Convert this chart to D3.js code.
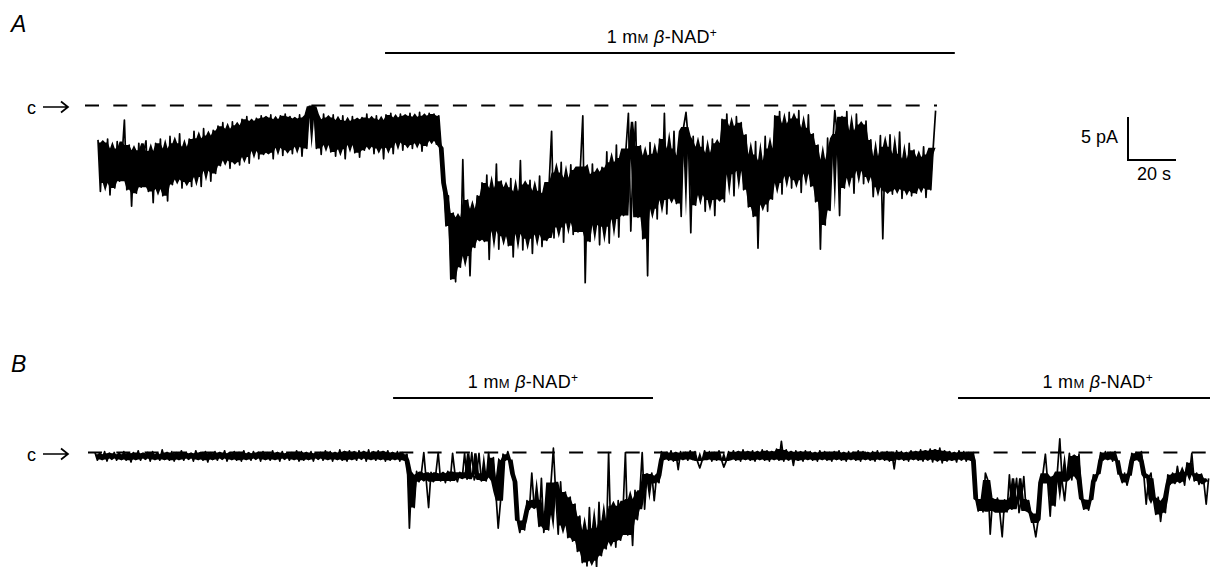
<!DOCTYPE html>
<html>
<head>
<meta charset="utf-8">
<script src="https://cdn.jsdelivr.net/npm/d3@7"></script>
<style>
  body { margin: 0; background: #fff; }
  svg { display: block; font-family: "Liberation Sans", Arial, Helvetica, sans-serif; }
</style>
</head>
<body>
<div id="canvas"></div>
<script>
"use strict";

/* recording settings */
const svgWidth = 1210;
const svgHeight = 567;
const dt = 1;            // s between samples
const pxPerSec = 2.4;
const pxPerPA = 8.6;

/* trace A, current in pA relative to closed level (one sample per second) */
const traceA = [
  -4.0, -10.0, -4.3, -9.0, -3.9, -10.4, -5.0, -9.6, -4.2, -8.8,
  -6.0, -1.7, -9.8, -4.6, -11.7, -5.2, -10.2, -4.4, -9.5, -5.5,
  -4.1, -10.0, -5.3, -11.3, -4.4, -9.7, -3.9, -10.5, -5.0, -11.1,
  -3.6, -9.2, -4.4, -8.6, -3.3, -9.6, -4.8, -8.9, -3.9, -9.4,
  -3.0, -8.3, -3.8, -9.4, -2.7, -7.6, -3.5, -8.8, -2.9, -7.9,
  -2.4, -7.0, -2.0, -6.4, -2.7, -7.3, -1.9, -6.6, -2.3, -6.9,
  -1.6, -6.0, -1.3, -6.7, -1.8, -5.3, -1.5, -6.2, -1.2, -5.7,
  -1.4, -5.5, -1.1, -6.2, -1.6, -4.9, -1.2, -5.8, -1.0, -5.2,
  -1.3, -5.6, -1.5, -4.8, -1.1, -5.9, -1.4, -5.0, -0.1, -0.1,
  -0.1, -5.0, -1.6, -5.7, -1.0, -4.6, -1.4, -5.4, -1.1, -5.9,
  -1.7, -5.1, -1.2, -6.2, -1.8, -4.6, -1.3, -5.5, -1.6, -6.0,
  -1.4, -5.2, -1.0, -4.8, -1.5, -5.6, -1.2, -5.0, -1.7, -6.2,
  -1.1, -4.9, -0.9, -5.6, -1.4, -4.3, -1.0, -5.2, -1.2, -4.6,
  -0.9, -5.0, -1.3, -4.4, -0.8, -5.3, -1.2, -4.7, -0.9, -4.1,
  -1.0, -4.5, -1.2, -4.9, -9.0, -14.0, -10.5, -20.2, -12.5, -20.5,
  -13.0, -18.8, -6.3, -17.5, -11.0, -19.8, -12.0, -16.5, -10.5, -15.6,
  -9.0, -15.8, -8.1, -17.9, -9.6, -14.6, -6.8, -16.7, -8.8, -15.2,
  -9.5, -16.3, -8.5, -17.6, -10.0, -14.9, -6.4, -16.8, -9.2, -15.5,
  -8.7, -17.2, -9.9, -15.0, -8.2, -16.4, -10.2, -15.7, -8.9, -3.0,
  -15.4, -7.8, -14.2, -6.6, -15.9, -8.4, -13.6, -6.9, -15.0, -7.5,
  -14.7, -7.1, -1.2, -20.6, -8.0, -15.8, -6.8, -13.9, -7.7, -16.2,
  -7.2, -14.1, -5.4, -16.0, -6.6, -13.2, -4.6, -15.3, -6.1, -12.8,
  -5.0, -0.9, -14.6, -6.2, -1.9, -13.0, -4.7, -15.5, -5.8, -19.8,
  -4.3, -12.0, -5.6, -13.2, -3.9, -11.0, -0.9, -12.6, -5.0, -10.8,
  -3.0, -11.4, -5.8, -12.9, -2.5, -0.8, -4.1, -14.8, -3.6, -11.6,
  -4.8, -10.4, -3.6, -12.3, -5.5, -11.0, -3.9, -12.8, -4.4, -10.9,
  -1.6, -11.2, -1.0, -8.0, -2.4, -10.5, -1.3, -7.6, -2.0, -9.8,
  -3.4, -11.8, -5.7, -12.9, -4.2, -16.6, -6.4, -11.5, -3.6, -12.3,
  -5.0, -10.9, -1.2, -9.0, -0.7, -10.3, -2.1, -8.2, -0.8, -9.6,
  -1.5, -8.7, -0.6, -10.1, -2.6, -7.9, -1.1, -9.4, -3.3, -11.2,
  -4.6, -16.7, -6.3, -13.9, -3.8, -12.2, -5.1, -0.6, -3.3, -12.8,
  -1.3, -9.6, -0.7, -8.4, -2.9, -10.2, -1.0, -7.6, -2.2, -9.1,
  -1.8, -8.3, -4.0, -10.6, -5.9, -9.5, -3.5, -15.5, -4.8, -10.0,
  -3.4, -10.3, -5.6, -9.7, -3.1, -10.8, -6.2, -9.9, -4.4, -10.5,
  -5.2, -10.2, -6.0, -9.6, -4.8, -10.7, -5.7, -9.8, -4.9, -0.6
];

/* trace B, same units */
const traceB = [
  0.0, -0.9, -0.2, -0.8, 0.1, -1.0, -0.1, -0.7, 0.0, -0.9,
  -0.2, -0.8, 0.1, -0.9, -0.1, -1.1, 0.0, -0.8, 0.2, -0.9,
  -0.1, -0.7, 0.0, -1.0, 0.1, -0.8, -0.2, -0.9, 0.3, -0.8,
  0.0, -0.9, 0.1, -1.0, -0.1, -0.8, 0.2, -0.9, 0.0, -0.7,
  -0.1, -1.0, 0.2, -0.8, 0.0, -0.9, 0.1, -1.1, -0.1, -0.8,
  0.1, -0.9, 0.0, -0.7, 0.2, -1.0, -0.1, -0.8, 0.1, -0.9,
  0.0, -1.0, 0.2, -0.8, -0.1, -0.9, 0.1, -0.7, 0.0, -1.0,
  0.1, -0.8, -0.1, -0.9, 0.2, -0.8, 0.0, -1.0, 0.1, -0.7,
  -0.1, -0.9, 0.0, -0.8, 0.2, -1.0, 0.1, -0.9, 0.0, -0.8,
  0.1, -1.0, -0.1, -0.7, 0.0, -0.9, 0.2, -0.8, 0.1, -1.0,
  0.0, -0.8, 0.3, -0.9, 0.1, -1.0, 0.2, -0.8, 0.0, -0.9,
  0.2, -0.7, 0.1, -1.0, 0.3, -0.8, 0.0, -0.9, 0.2, -0.8,
  0.1, -1.0, 0.2, -0.9, 0.0, -0.8, 0.1, -1.0, 0.0, -0.9,
  // first application
  -0.2, -8.8, -2.6, -6.4, -2.2, -3.4, -2.4, 0.0, -3.2, -6.4,
  -2.3, -3.4, -2.5, 0.0, -3.3, -2.4, -3.5, -2.2, -3.3, -0.1,
  -2.5, -3.4, -2.3, -3.0, -0.1, -3.1, -2.4, 0.0, -3.2, -2.5,
  -0.1, -3.3, -2.4, -3.3, 0.0, -2.9, -0.6, -4.6, -8.8, -5.6,
  -0.2, -0.9, 0.1, -0.8, -2.5, -3.4, -7.9, -9.3, -8.0, -9.0,
  -5.6, -6.6, -2.4, -6.4, -5.5, -8.6, -3.0, -9.3, -7.2, -9.0,
  -3.5, 0.5, -5.0, -9.5, -3.4, -8.5, -4.6, -9.9, -5.2, -10.3,
  -6.0, -11.5, -7.4, -12.8, -9.0, -13.2, -6.4, -12.6, -8.8, -13.4,
  -5.8, -12.0, -7.9, -11.2, 0.0, -10.4, -6.2, -11.0, -5.6, -10.2,
  -6.8, 0.0, -9.6, -5.4, -10.8, -4.4, -7.8, -4.8, 0.0, -6.6,
  -2.5, -3.6, -2.4, -5.6, -2.7, -3.5,
  // wash
  0.1, -0.8, 0.0, -0.9, 0.2, -1.0, 0.0, -2.0, 0.1, -0.8,
  0.0, -0.9, 0.2, -0.8, 0.1, -1.0, -1.8, -0.9, 0.2, -0.8,
  0.1, -1.0, 0.0, -0.9, 0.2, -0.8, -1.7, -1.0, 0.1, -0.8,
  0.2, -0.9, 0.1, -1.0, 0.3, -0.8, 0.1, -0.9, 0.2, -1.0,
  0.1, -0.8, 0.3, -0.9, 0.2, -1.0, 0.1, -0.8, 0.4, -0.9,
  1.3, -1.0, 0.3, -0.8, 0.1, -1.5, 0.2, -0.9, 0.0, -1.0,
  0.2, -0.8, 0.1, -0.9, 0.0, -1.0, 0.2, -0.8, 0.1, -0.9,
  0.0, -1.0, 0.1, -0.8, 0.2, -0.9, 0.0, -1.0, 0.1, -0.8,
  0.0, -0.9, 0.2, -1.0, 0.1, -0.8, 0.0, -0.9, 0.1, -1.0,
  0.2, -0.8, 0.0, -0.9, 0.1, -1.0, 0.0, -1.9, 0.2, -0.8,
  0.1, -0.9, 0.0, -1.0, 0.2, -0.8, 0.1, -0.9, 0.3, -1.0,
  0.2, -0.8, 0.4, -1.1, 0.3, -0.9, 0.5, -1.2, 0.2, -1.0,
  0.1, -0.9, 0.0, -1.1, 0.2, -0.8, 0.1, -1.0, 0.0, -0.9, 0.0,
  // second application
  -5.4, -6.8, -5.6, -6.9, -2.4, -3.2, -9.5, -5.4, -6.8, -5.3,
  -7.0, -9.8, -5.5, -6.9, -2.6, -6.6, -5.2, -3.0, -7.0, -5.4,
  -2.8, -6.8, -5.6, -7.1, -8.2, -9.8, -7.8, -3.5, -2.4, -0.2,
  -3.6, -7.4, -2.8, -6.2, -2.2, 1.6, -3.4, -5.6, -2.6, -0.1,
  -3.2, -0.4, -2.8, -0.2, -5.4, -6.6, -5.6, -6.7, -5.5, -2.6,
  -3.3, -2.5, 0.0, -0.9, 0.1, -0.8, 0.0, -1.0, 0.1, -0.9,
  -2.6, -3.5, -2.4, -3.8, -2.7, -0.1, -0.9, 0.0, -1.0, 0.1,
  -2.6, -6.0, -3.0, -2.4, -5.4, -7.2, -5.2, -8.0, -5.6, -7.0,
  -2.6, -3.7, -2.4, -3.6, -1.6, -3.4, -2.3, -3.8, -1.2, -2.6,
  -0.1, -3.3, -2.4, -3.7, -2.5, -3.4, -6.0, -3.0
];

/* drug application periods, s from start of each trace */
const drugA = [[119.6, 357]];
const drugB = [[124.2, 232.5], [359.6, 476]];

/* calibration */
const calPA = 5;
const calSec = 20;

const svg = d3.select("#canvas")
  .append("svg")
  .attr("width", svgWidth)
  .attr("height", svgHeight);

svg.append("rect")
  .attr("width", svgWidth)
  .attr("height", svgHeight)
  .attr("fill", "#fff");

// dense part of the noise: 2nd highest / 2nd lowest sample in a 5-sample window
// (isolated spikes stay as thin lines, the rest prints as a solid band)
function denseBand(data) {
  return data.map((v, i) => {
    const w = data.slice(Math.max(0, i - 2), i + 3).sort(d3.ascending);
    return [w[w.length - 2], w[1]];
  });
}

// one recording panel
function drawPanel(cfg) {
  const x = d3.scaleLinear()
    .domain([0, 100])
    .range([cfg.x0, cfg.x0 + 100 * pxPerSec]);
  const y = d3.scaleLinear()
    .domain([0, -5])
    .range([cfg.y0, cfg.y0 + 5 * pxPerPA]);

  const g = svg.append("g");

  // panel letter
  g.append("text")
    .attr("x", 11)
    .attr("y", cfg.letterY)
    .attr("font-size", "23px")
    .attr("font-style", "italic")
    .text(cfg.letter);

  // closed level: dashed line, "c" and arrow
  g.append("line")
    .attr("x1", cfg.dashFrom).attr("x2", cfg.dashTo)
    .attr("y1", y(0)).attr("y2", y(0))
    .attr("stroke", "#000")
    .attr("stroke-width", 2.2)
    .attr("stroke-dasharray", "14,14.3");

  g.append("text")
    .attr("x", 27)
    .attr("y", y(0) + 8.5)
    .attr("font-size", "18px")
    .text("c");

  const ay = y(0) + 1.5;
  g.append("path")
    .attr("d", `M43,${ay}H68M61,${ay - 5.5}L68,${ay}L61,${ay + 5.5}`)
    .attr("fill", "none")
    .attr("stroke", "#000")
    .attr("stroke-width", 1.7);

  // drug bars and labels
  cfg.drug.forEach(([t0, t1]) => {
    g.append("line")
      .attr("x1", x(t0)).attr("x2", x(t1))
      .attr("y1", cfg.barY).attr("y2", cfg.barY)
      .attr("stroke", "#000")
      .attr("stroke-width", 2);

    const lab = g.append("text")
      .attr("x", (x(t0) + x(t1)) / 2 + (cfg.labelShift || 0))
      .attr("y", cfg.barY - 10)
      .attr("text-anchor", "middle")
      .attr("font-size", "18px")
      .attr("letter-spacing", "0.3px");
    lab.append("tspan").text("1 m");
    lab.append("tspan").attr("font-size", "13px").text("M");
    lab.append("tspan").text(" ");
    lab.append("tspan").attr("font-style", "italic").text("β");
    lab.append("tspan").text("-NAD");
    lab.append("tspan").attr("font-size", "12px").attr("dy", -6).text("+");
  });

  // current trace: dense band + the sample line on top
  const band = d3.area()
    .x((d, i) => x(i * dt))
    .y0(d => y(d[1]))
    .y1(d => y(d[0]));

  g.append("path")
    .datum(denseBand(cfg.data))
    .attr("d", band)
    .attr("fill", "#000");

  const line = d3.line()
    .x((d, i) => x(i * dt))
    .y(d => y(d));

  g.append("path")
    .datum(cfg.data)
    .attr("d", line)
    .attr("fill", "none")
    .attr("stroke", "#000")
    .attr("stroke-width", cfg.traceWidth)
    .attr("stroke-linejoin", "round");

  return { x, y };
}

const pA = drawPanel({
  letter: "A", letterY: 32,
  data: traceA, drug: drugA,
  x0: 98, y0: 105.5,
  dashFrom: 85, dashTo: 937,
  barY: 53, labelShift: -8,
  traceWidth: 1.7
});

drawPanel({
  letter: "B", letterY: 372,
  data: traceB, drug: drugB,
  x0: 95, y0: 452.5,
  dashFrom: 88, dashTo: 1210,
  barY: 398,
  traceWidth: 1.7
});

// calibration bars (5 pA, 20 s) from panel A scales
const cx = 1128, cy = 160;
const calH = pA.y(-calPA) - pA.y(0);
const calW = pA.x(calSec) - pA.x(0);

svg.append("path")
  .attr("d", `M${cx},${cy - calH}V${cy}H${cx + calW}`)
  .attr("fill", "none")
  .attr("stroke", "#000")
  .attr("stroke-width", 2);

svg.append("text")
  .attr("x", cx - 10)
  .attr("y", cy - 17)
  .attr("text-anchor", "end")
  .attr("font-size", "18px")
  .text(`${calPA} pA`);

svg.append("text")
  .attr("x", cx + calW / 2 + 2)
  .attr("y", cy + 20)
  .attr("text-anchor", "middle")
  .attr("font-size", "18px")
  .text(`${calSec} s`);
</script>
</body>
</html>
